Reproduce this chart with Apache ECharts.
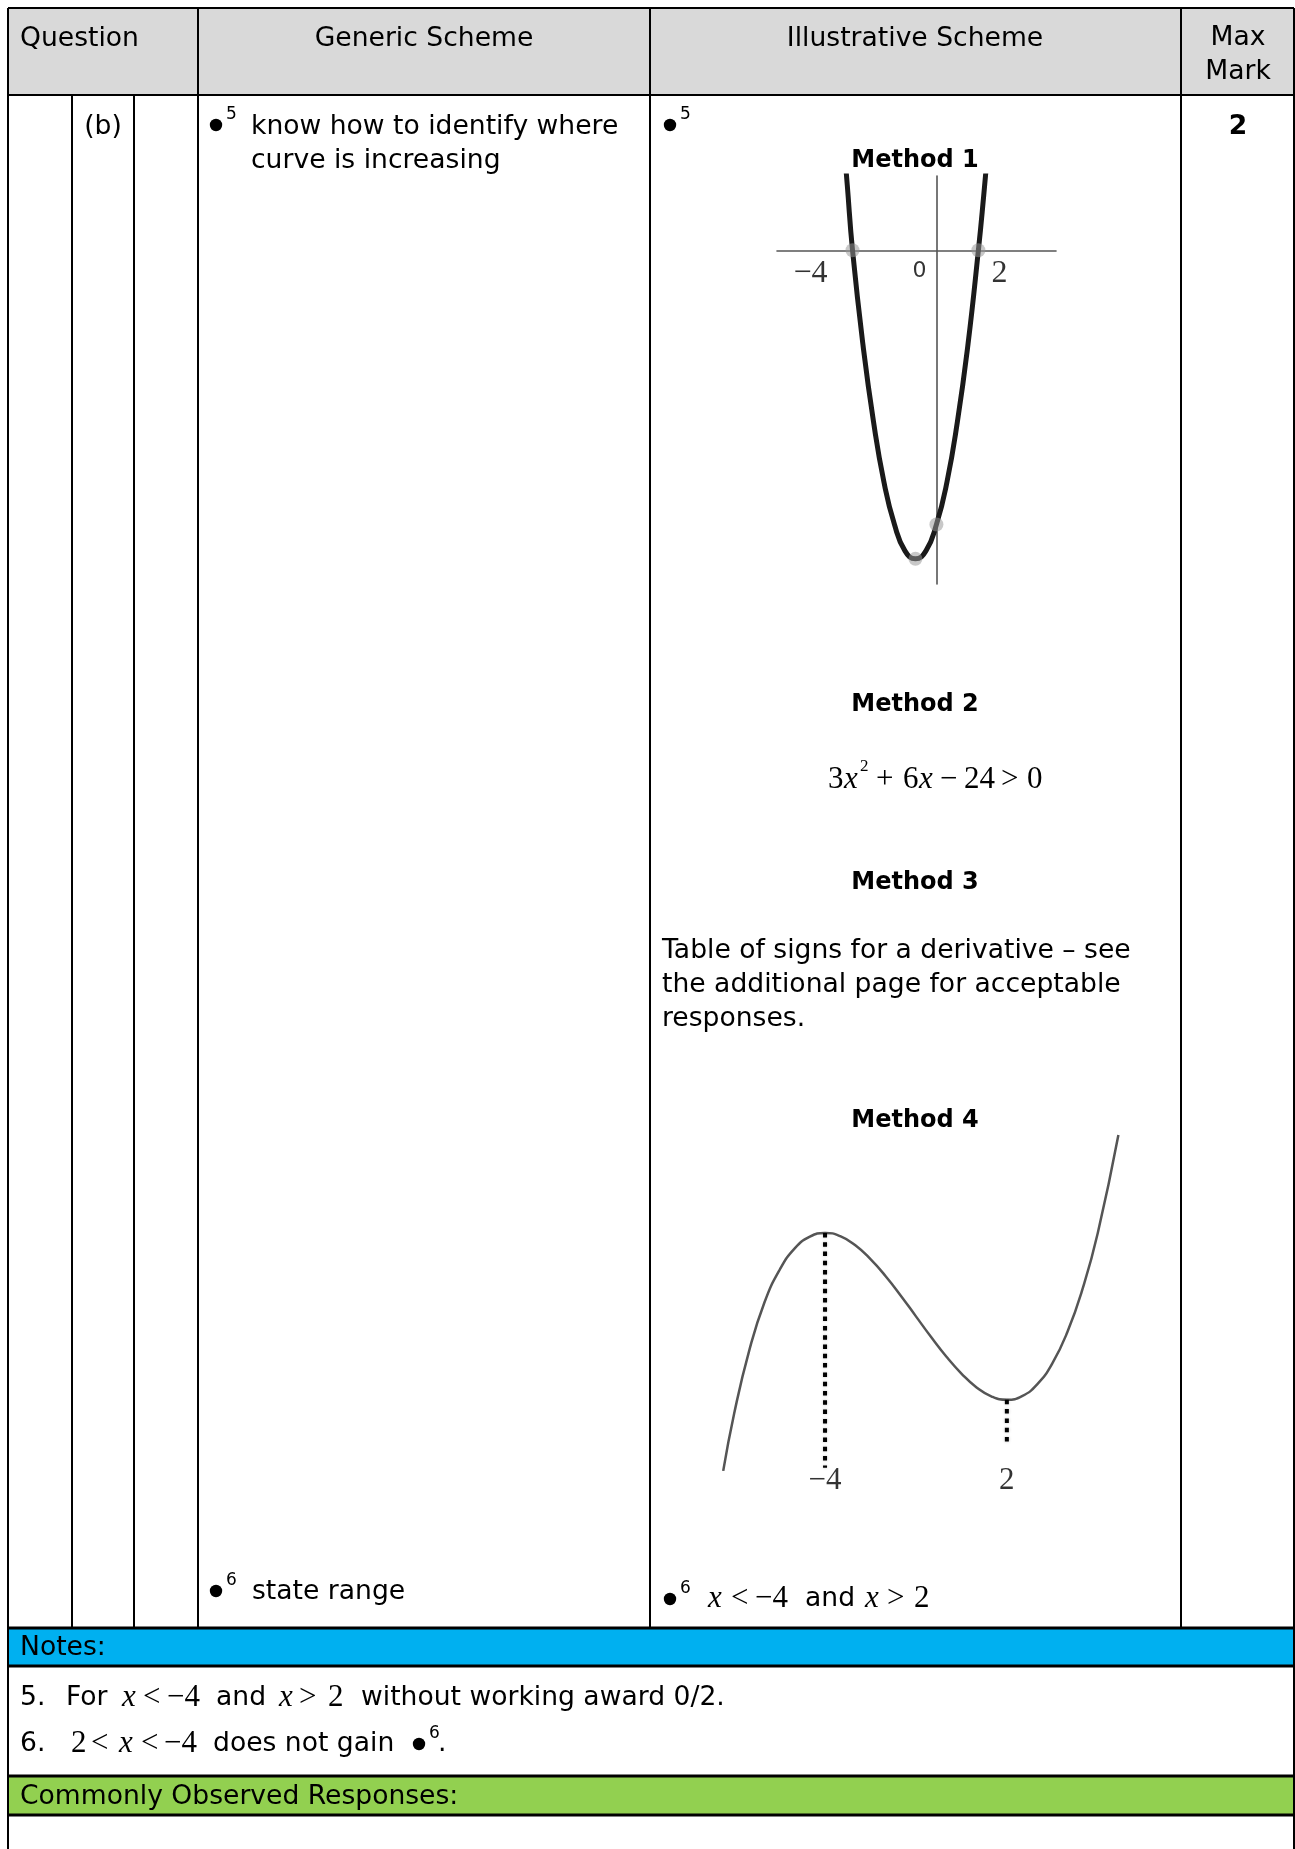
<!DOCTYPE html>
<html>
<head>
<meta charset="utf-8">
<style>
html, body { margin: 0; padding: 0; background: #fff; }
#main { width: 1295px; height: 1849px; }
</style>
<script src="https://cdn.jsdelivr.net/npm/echarts@6/dist/echarts.min.js"></script>
</head>
<body>
<div id="main"></div>
<script>
// Method 1 sketch (parabola of the derivative)
var m1X = [-4.5, -4.25, -4, -3.5, -3, -2.5, -2, -1.5, -1, -0.5, 0, 0.5, 1, 1.5, 2, 2.25, 2.5];
var m1Y = [11.3, 5.7, 0, -8.3, -15, -20.3, -24, -26.3, -27, -26.3, -24, -20.3, -15, -8.3, 0, 4.7, 9.8];
var m1PointX = [-4, 2, 0, -1];
var m1PointY = [0, 0, -24, -27];
var m1Ticks = [-4, 0, 2];
var m1TickLabels = ['\u22124', '0', '2'];

// Method 4 sketch (cubic with turning points at -4 and 2)
var m4X = [-7.36, -7, -6.5, -6, -5.5, -5, -4.5, -4, -3.5, -3, -2.5, -2, -1.5, -1, -0.5, 0, 0.5, 1, 1.5, 2, 2.5, 3, 3.5, 4, 4.5, 5, 5.68];
var m4Y = [-74, -37, 4, 35, 56, 70, 77.6, 80, 77.9, 72, 63, 52, 39.4, 26, 12.6, 0, -11, -20, -25.9, -28, -25.6, -18, -4.4, 16, 43.9, 80, 143.4];
var m4DropX = [-4, 2];
var m4DropTop = [80, -28];
var m4DropEnd = [-72, -57];
var m4TickLabels = ['\u22124', '2'];

var SANS = '"DejaVu Sans", Verdana, sans-serif';
var SERIF = '"Liberation Serif", "Times New Roman", serif';

var L = 8, C1 = 72, C2 = 134, C3 = 198, C4 = 650, C5 = 1181, R = 1294;
var TOP = 8, HEAD = 95, BODY = 1628, NOTES = 1666, GTOP = 1776, GBOT = 1815, BOT = 1849;

function txt(x, y, s, o) {
  o = o || {};
  return {
    type: 'text', x: x, y: y + 3, z: 20,
    style: {
      text: s,
      fontSize: o.size || 26.6,
      fontFamily: o.family || SANS,
      fontWeight: o.weight || 'normal',
      fontStyle: o.italic ? 'italic' : 'normal',
      fill: '#000',
      align: o.align || 'left', textAlign: o.align || 'left',
      verticalAlign: 'middle', textVerticalAlign: 'middle'
    }
  };
}
function ln(x1, y1, x2, y2, w) {
  return { type: 'line', z: 15, shape: { x1: x1, y1: y1, x2: x2, y2: y2 }, style: { stroke: '#000', lineWidth: w || 2 } };
}
function rect(x, y, w, h, c) {
  return { type: 'rect', z: 1, shape: { x: x, y: y, width: w, height: h }, style: { fill: c } };
}
function bullet(x, y, sup) {
  return [
    { type: 'circle', z: 20, shape: { cx: x, cy: y, r: 6.2 }, style: { fill: '#000' } },
    txt(x + 10, y - 13, sup, { size: 17 })
  ];
}
// one math/text line made of tokens [x, text, kind]
function tokens(y, list) {
  return list.map(function (t) {
    var k = t[2] || 'sans';
    if (k === 'sans') return txt(t[0], y, t[1]);
    return txt(t[0], y, t[1], { family: SERIF, size: 31, italic: k === 'it' });
  });
}

var g = [];
g.push(rect(L, TOP, R - L, HEAD - TOP, '#d9d9d9'));
g.push(rect(L, BODY, R - L, NOTES - BODY, '#00b0f0'));
g.push(rect(L, GTOP, R - L, GBOT - GTOP, '#92d050'));

g.push(ln(L, TOP, R, TOP), ln(L, HEAD, R, HEAD), ln(L, BODY, R, BODY, 3), ln(L, NOTES, R, NOTES, 3),
  ln(L, GTOP, R, GTOP, 3), ln(L, GBOT, R, GBOT, 3));
g.push(ln(L, TOP, L, BOT), ln(R, TOP, R, BOT));
g.push(ln(C3, TOP, C3, BODY), ln(C4, TOP, C4, BODY), ln(C5, TOP, C5, BODY));
g.push(ln(C1, HEAD, C1, BODY), ln(C2, HEAD, C2, BODY));

g.push(txt(20, 36, 'Question'));
g.push(txt(424, 36, 'Generic Scheme', { align: 'center' }));
g.push(txt(915, 36, 'Illustrative Scheme', { align: 'center' }));
g.push(txt(1238, 35, 'Max', { align: 'center' }));
g.push(txt(1238, 69, 'Mark', { align: 'center' }));

g.push(txt(103, 124, '(b)', { align: 'center' }));
g = g.concat(bullet(216, 125, '5'));
g.push(txt(251, 124, 'know how to identify where'));
g.push(txt(251, 158, 'curve is increasing'));
g.push(txt(1238, 124, '2', { align: 'center', weight: 'bold' }));
g = g.concat(bullet(670, 125, '5'));

g.push(txt(915, 158, 'Method 1', { align: 'center', weight: 'bold', size: 24 }));
g.push(txt(915, 702, 'Method 2', { align: 'center', weight: 'bold', size: 24 }));
g = g.concat(tokens(777, [[828, '3', 'ser'], [844, 'x', 'it'], [876, '+', 'ser'], [903, '6', 'ser'], [919, 'x', 'it'],
  [940, '\u2212', 'ser'], [964, '24', 'ser'], [1001, '>', 'ser'], [1027, '0', 'ser']]));
g.push(txt(860, 764, '2', { family: SERIF, size: 17 }));
g.push(txt(915, 880, 'Method 3', { align: 'center', weight: 'bold', size: 24 }));
g.push(txt(662, 948, 'Table of signs for a derivative \u2013 see'));
g.push(txt(662, 982, 'the additional page for acceptable'));
g.push(txt(662, 1016, 'responses.'));
g.push(txt(915, 1118, 'Method 4', { align: 'center', weight: 'bold', size: 24 }));

g = g.concat(bullet(216, 1591, '6'));
g.push(txt(252, 1589, 'state range'));
g = g.concat(bullet(670, 1599, '6'));
g = g.concat(tokens(1596, [[708, 'x', 'it'], [731, '<', 'ser'], [755, '\u22124', 'ser'], [805, 'and'],
  [865, 'x', 'it'], [887, '>', 'ser'], [914, '2', 'ser']]));

g.push(txt(20, 1645, 'Notes:'));
g = g.concat(tokens(1695, [[20, '5.'], [66, 'For'], [122, 'x', 'it'], [143, '<', 'ser'], [167, '\u22124', 'ser'],
  [216, 'and'], [279, 'x', 'it'], [299, '>', 'ser'], [328, '2', 'ser'], [361, 'without working award 0/2.']]));
g = g.concat(tokens(1741, [[20, '6.'], [71, '2', 'ser'], [91, '<', 'ser'], [119, 'x', 'it'], [141, '<', 'ser'],
  [164, '\u22124', 'ser'], [213, 'does not gain']]));
g = g.concat(bullet(419, 1744, '6'));
g.push(txt(438, 1741, '.'));
g.push(txt(20, 1794, 'Commonly Observed Responses:'));

function zip(a, b) { return a.map(function (v, i) { return [v, b[i]]; }); }

var m1LabelStyle = [
  { offset: [-42, 23], family: SERIF, size: 32 },
  { offset: [-17, 21], family: SANS, size: 22 },
  { offset: [21, 23], family: SERIF, size: 32 }
];

var series = [
  {
    type: 'line', xAxisIndex: 0, yAxisIndex: 0, data: zip(m1X, m1Y), smooth: true, symbol: 'none', clip: true,
    lineStyle: { color: '#1a1a1a', width: 5 }, z: 3
  },
  {
    type: 'scatter', xAxisIndex: 0, yAxisIndex: 0, data: zip(m1PointX, m1PointY), symbolSize: 14,
    itemStyle: { color: 'rgba(150,150,150,0.65)' }, z: 4
  },
  {
    type: 'scatter', xAxisIndex: 0, yAxisIndex: 0, symbolSize: 0, clip: false, z: 5,
    data: m1Ticks.map(function (v, i) {
      var s = m1LabelStyle[i];
      return {
        value: [v, 0],
        label: { show: true, position: 'inside', offset: s.offset, formatter: m1TickLabels[i],
          fontFamily: s.family, fontSize: s.size, color: '#000' }
      };
    })
  },
  {
    type: 'line', xAxisIndex: 1, yAxisIndex: 1, data: zip(m4X, m4Y), smooth: true, symbol: 'none',
    lineStyle: { color: '#555', width: 2.5 }, z: 3
  },
  {
    type: 'scatter', xAxisIndex: 1, yAxisIndex: 1, symbolSize: 0, clip: false, z: 5,
    data: m4DropX.map(function (v, i) {
      return {
        value: [v, -76],
        label: { show: true, position: 'inside', offset: [0, 7], formatter: m4TickLabels[i],
          fontFamily: SERIF, fontSize: 31, color: '#000' }
      };
    })
  }
];
m4DropX.forEach(function (v, i) {
  series.push({
    type: 'line', xAxisIndex: 1, yAxisIndex: 1, symbol: 'none', z: 4,
    data: [[v, m4DropTop[i]], [v, m4DropEnd[i]]],
    lineStyle: { color: '#000', width: 4, type: [4.5, 4.8], shadowColor: 'rgba(0,0,0,0.25)', shadowBlur: 3 }
  });
});

var hidden = { show: false };
var option = {
  animation: false,
  backgroundColor: '#fff',
  graphic: { elements: g },
  grid: [
    { left: 777, top: 176, width: 279, height: 408 },
    { left: 722, top: 1134, width: 397, height: 340 }
  ],
  xAxis: [
    { type: 'value', gridIndex: 0, min: -7.6, max: 5.7,
      axisLine: { onZero: true, lineStyle: { color: '#555', width: 1.6 } },
      axisTick: hidden, axisLabel: hidden, splitLine: hidden },
    { type: 'value', gridIndex: 1, min: -7.4, max: 5.7, show: false, splitLine: hidden }
  ],
  yAxis: [
    { type: 'value', gridIndex: 0, min: -29.2, max: 6.5,
      axisLine: { show: true, onZero: true, lineStyle: { color: '#555', width: 1.6 } },
      axisTick: hidden, axisLabel: hidden, splitLine: hidden },
    { type: 'value', gridIndex: 1, min: -76, max: 144, show: false, splitLine: hidden }
  ],
  series: series
};

var chart = echarts.init(document.getElementById('main'));
chart.setOption(option);
</script>
</body>
</html>
